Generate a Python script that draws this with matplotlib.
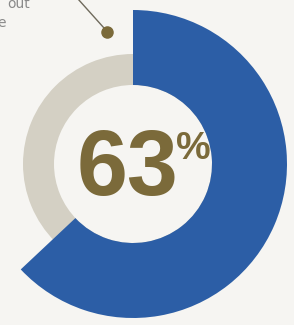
import matplotlib
matplotlib.use("Agg")
import matplotlib.pyplot as plt

share = [63, 37]
rest = [100]
label = "63"

blue = "#2c5ea6"
grey = "#d4d0c4"
olive = "#7b6a3a"
bg = "#f6f5f2"

fig = plt.figure(figsize=(2.94, 3.25), dpi=100)
fig.patch.set_facecolor(bg)
ax = fig.add_axes([0, 0, 1, 1])
ax.set_facecolor(bg)

cx, cy = 133, 161
# grey track behind
ax.pie(rest, colors=[grey], radius=110, center=(cx, cy),
       wedgeprops=dict(width=31, linewidth=0), frame=True)
# blue share
ax.pie(share, colors=[blue, "none"], radius=154, center=(cx, cy),
       startangle=90, counterclock=False,
       wedgeprops=dict(width=75, linewidth=0), frame=True)

ax.text(127, 154, label, ha="center", va="center", fontsize=66,
        fontweight="bold", color=olive, family="Liberation Sans")
ax.text(176, 176, "%", ha="left", va="center", fontsize=28,
        fontweight="bold", color=olive, family="Liberation Sans")

# leader line and dot
ax.plot([78, 104], [326, 297], color="#6f6a5c", lw=1)
ax.plot([107], [293], "o", color=olive, ms=8)
ax.text(30, 321, "out", ha="right", va="center", fontsize=10, color="#8a8a8a")
ax.text(6, 302, "e", ha="right", va="center", fontsize=10, color="#8a8a8a")

ax.set_xlim(0, 294)
ax.set_ylim(0, 325)
ax.set_aspect("auto")
ax.axis("off")
fig.savefig("out.png", dpi=100, facecolor=bg)
